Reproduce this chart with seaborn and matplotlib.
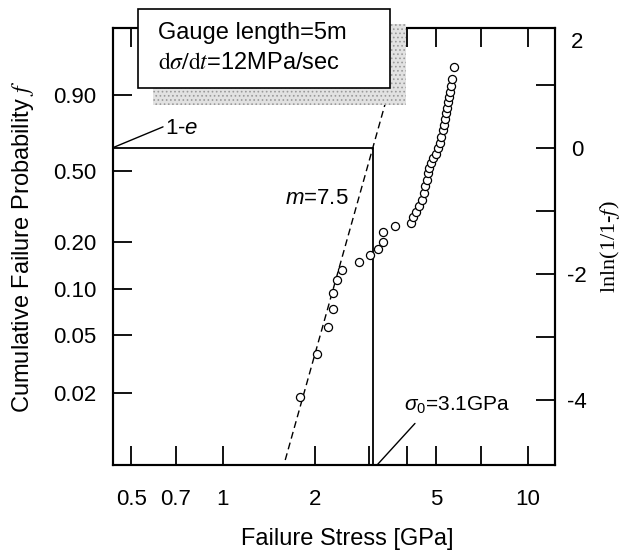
import numpy as np
import pandas as pd
import matplotlib
matplotlib.use("Agg")
import matplotlib.pyplot as plt
from matplotlib.patches import Rectangle
from matplotlib.ticker import NullLocator
import seaborn as sns

# Failure stress (GPa) and cumulative failure probability f of each specimen
stress = [1.79, 2.03, 2.21, 2.29, 2.29, 2.37, 2.45, 2.79, 3.03, 3.23,
          3.35, 3.35, 3.66, 4.12, 4.20, 4.28, 4.38, 4.49, 4.56, 4.61,
          4.65, 4.71, 4.75, 4.80, 4.89, 4.99, 5.08, 5.15, 5.20, 5.25,
          5.30, 5.34, 5.38, 5.44, 5.48, 5.52, 5.56, 5.58, 5.62, 5.72]
prob = [0.019, 0.037, 0.056, 0.074, 0.095, 0.115, 0.134, 0.151, 0.166, 0.181,
        0.200, 0.230, 0.251, 0.260, 0.283, 0.303, 0.326, 0.353, 0.385, 0.419,
        0.452, 0.485, 0.513, 0.541, 0.570, 0.595, 0.628, 0.658, 0.694, 0.734,
        0.762, 0.792, 0.823, 0.847, 0.872, 0.894, 0.912, 0.929, 0.950, 0.973]

# Weibull parameters of the fitted line and the stress span it is drawn over
weibull_m = 7.5
sigma0 = 3.1
fit_span = [1.6, 3.4]

x_ticks = [0.5, 0.7, 1, 2, 3, 4, 5, 7, 10]
x_ticklabels = ["0.5", "0.7", "1", "2", "", "", "5", "", "10"]
f_ticks = [0.02, 0.05, 0.10, 0.20, 0.50, 0.90]
f_ticklabels = ["0.02", "0.05", "0.10", "0.20", "0.50", "0.90"]
w_ticks = [-4, -3, -2, -1, 0, 1]
w_ticklabels = ["-4", "", "-2", "", "0", ""]
w_limits = (-5.04, 1.90)


def weibull(f):
    f = np.clip(np.asarray(f, dtype=float), 1e-12, 1 - 1e-12)
    return np.log(-np.log(1.0 - f))


def weibull_inv(w):
    return 1.0 - np.exp(-np.exp(np.asarray(w, dtype=float)))


sns.set_theme(style="ticks")
plt.rcParams.update({
    "font.family": ["Liberation Sans", "DejaVu Sans"],
    "mathtext.fontset": "custom",
    "mathtext.rm": "Liberation Sans",
    "mathtext.it": "Liberation Sans:italic",
    "mathtext.bf": "Liberation Sans:bold",
    "axes.edgecolor": "black",
    "axes.linewidth": 1.5,
    "axes.labelcolor": "black",
    "text.color": "black",
    "xtick.color": "black",
    "ytick.color": "black",
    "xtick.labelcolor": "black",
    "ytick.labelcolor": "black",
    "hatch.linewidth": 0.7,
})

W, H = 644, 556
fig = plt.figure(figsize=(W / 100, H / 100), dpi=100)
ax = fig.add_axes([113 / W, (H - 465) / H, 442 / W, 437 / H])

df = pd.DataFrame({"stress": stress, "prob": prob})
sns.scatterplot(data=df, x="stress", y="prob", ax=ax, marker="o", s=34,
                color="white", edgecolor="black", linewidth=0.9,
                legend=False, zorder=4)

ax.set_xscale("log")
ax.set_yscale("function", functions=(weibull, weibull_inv))
x_lo, x_hi = 0.436, 12.26
y_lo, y_hi = weibull_inv(w_limits[0]), weibull_inv(w_limits[1])
ax.set_xlim(x_lo, x_hi)
ax.set_ylim(y_lo, y_hi)

# Weibull fit line
fit_f = [1.0 - np.exp(-(s / sigma0) ** weibull_m) for s in fit_span]
ax.plot(fit_span, fit_f, color="black", lw=1.0, ls=(0, (5, 3)), zorder=3)

# Characteristic strength guides at f = 1 - 1/e
f_char = 1.0 - np.exp(-1.0)
ax.plot([sigma0, sigma0], [y_lo, f_char], color="black", lw=1.3, zorder=3)
ax.plot([x_lo, sigma0], [f_char, f_char], color="black", lw=1.3, zorder=3)

# Annotations
ax.plot([x_lo, 0.636], [f_char, weibull_inv(0.33)], color="black", lw=1.0)
ax.text(0.645, weibull_inv(0.31), "1-$e$", ha="left", va="center", fontsize=16)
ax.text(2.03, weibull_inv(-0.80), "$m$=7.5", ha="center", va="center", fontsize=16)
ax.plot([3.2, 4.26], [y_lo, weibull_inv(-4.38)], color="black", lw=1.0, clip_on=False)
ax.text(3.92, weibull_inv(-4.10), r"$\sigma_0$=3.1GPa", ha="left", va="center",
        fontsize=15)

# Axis ticks
ax.set_xticks(x_ticks)
ax.set_xticklabels(x_ticklabels)
ax.xaxis.set_minor_locator(NullLocator())
ax.set_yticks(f_ticks)
ax.set_yticklabels(f_ticklabels)
ax.yaxis.set_minor_locator(NullLocator())
ax.tick_params(axis="x", which="major", direction="in", length=14, width=1.3,
               top=True, bottom=True, pad=17, labelsize=16)
ax.tick_params(axis="y", which="major", direction="in", length=14, width=1.3,
               left=True, right=False, pad=12, labelsize=16)

ax.set_xlabel("Failure Stress [GPa]", fontsize=17, labelpad=13)
ax.xaxis.label.set_x(0.53)
ax.set_ylabel("Cumulative Failure Probability $f$", fontsize=17, labelpad=12)
ax.yaxis.label.set_math_fontfamily("stix")

# Weibull plot coordinate ln ln(1/(1-f)) on the right
ax2 = ax.twinx()
ax2.set_ylim(*w_limits)
ax2.set_yticks(w_ticks)
ax2.set_yticklabels(w_ticklabels)
ax2.yaxis.set_minor_locator(NullLocator())
ax2.tick_params(axis="y", direction="in", length=14, width=1.3, pad=16,
                labelsize=16, left=False, right=True)
for lab in ax2.get_yticklabels():
    lab.set_horizontalalignment("center")
ax2.set_ylabel("lnln(1/1-$f$)", fontsize=16, labelpad=8,
               family=["Liberation Serif", "DejaVu Serif"],
               math_fontfamily="stix")
fig.text(577 / W, 1 - 43 / H, "2", ha="center", va="center", fontsize=16)

# Test condition box with drop shadow
fig.patches.append(Rectangle((153 / W, (H - 105) / H), 253 / W, 81 / H,
                             transform=fig.transFigure, facecolor="#e2e2e2",
                             edgecolor="#9a9a9a", linewidth=0, hatch="....",
                             zorder=5))
fig.patches.append(Rectangle((138 / W, (H - 88) / H), 252 / W, 79 / H,
                             transform=fig.transFigure, facecolor="white",
                             edgecolor="black", linewidth=1.2, zorder=6))
fig.text(158 / W, 1 - 33 / H, "Gauge length=5m", ha="left", va="center",
         fontsize=17, zorder=7)
fig.text(158 / W, 1 - 63 / H, r"$\mathrm{d}\sigma/\mathrm{d}t$=12MPa/sec",
         ha="left", va="center", fontsize=17, zorder=7, math_fontfamily="stix")

fig.savefig("out.png", dpi=100)
